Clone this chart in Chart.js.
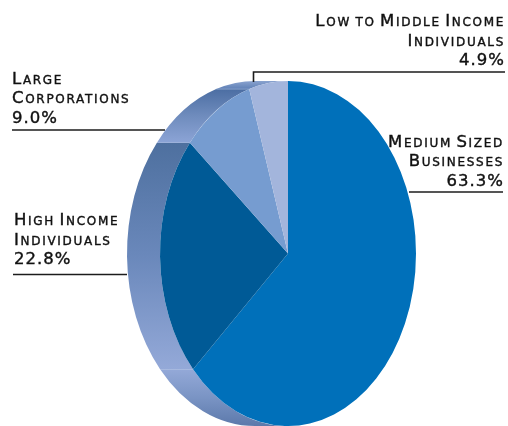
<!DOCTYPE html>
<html>
<head>
<meta charset="utf-8">
<style>
  html, body { margin: 0; padding: 0; background: #fff; }
  #wrap { width: 508px; height: 426px; overflow: hidden; }
  canvas { display: block; }
</style>
<script src="https://cdn.jsdelivr.net/npm/chart.js@4"></script>
</head>
<body>
<div id="wrap"><canvas id="pie" width="508" height="426"></canvas></div>
<script>
// Client segments and their share of the total, clockwise from twelve o'clock.
const categories = ['Medium Sized Businesses', 'High Income Individuals', 'Large Corporations', 'Low to Middle Income Individuals'];
const shares = [63.3, 22.8, 9.0, 4.9];
const faceColors = ['#0070ba', '#005a96', '#769cd0', '#a3b5dc'];

// Side-wall gradients, listed from the start of each slice's arc to its end.
const wallStops = [
  ['#5c79ab', '#7a94c4', '#94a9d8'],
  ['#94a9d8', '#6a88bb', '#4e709f'],
  ['#8ca4d6', '#6f8cbd', '#4c6ea3'],
  ['#5f80b6', '#8aa3cf']
];

// Label text, anchor and leader line for each slice.
const labelLines = [
  ['Medium Sized', 'Businesses', '63.3%'],
  ['High Income', 'Individuals', '22.8%'],
  ['Large', 'Corporations', '9.0%'],
  ['Low to Middle Income', 'Individuals', '4.9%']
];
const labelLayout = [
  { x: 504, align: 'right', base: [146.5, 166, 185.5], leader: [[409, 192], [503, 192]] },
  { x: 14, align: 'left', base: [225, 244.5, 264], leader: [[13, 274.5], [127, 274.5]] },
  { x: 12, align: 'left', base: [83.5, 103, 122.5], leader: [[12, 130], [165, 130]] },
  { x: 505, align: 'right', base: [26, 45.5, 65], leader: [[253.5, 82], [253.5, 72], [505, 72]] }
];

// The pie is squeezed horizontally into an ellipse and extruded to the left.
const squeeze = 128 / 172.5;
const depth = 33;

function wallPath(ctx, x, y, r, from, to, shift) {
  ctx.beginPath();
  ctx.arc(x, y, r, from, to);
  ctx.arc(x - shift, y, r, to, from, true);
  ctx.closePath();
}

const ellipsePie = {
  id: 'ellipsePie',
  beforeDatasetsDraw(chart) {
    const ctx = chart.ctx;
    const arcs = chart.getDatasetMeta(0).data;
    const cx = arcs[0].x;
    const shift = depth / squeeze;
    ctx.save();
    ctx.translate(cx, 0);
    ctx.scale(squeeze, 1);
    ctx.translate(-cx, 0);
    const lo = Math.PI / 2, hi = Math.PI * 1.5;
    arcs.forEach((arc, i) => {
      const from = Math.max(arc.startAngle, lo);
      const to = Math.min(arc.endAngle, hi);
      if (to <= from) return;
      const y0 = arc.y + arc.outerRadius * Math.sin(from);
      const y1 = arc.y + arc.outerRadius * Math.sin(to);
      const grad = ctx.createLinearGradient(0, y0, 0, y1);
      wallStops[i].forEach((c, k, all) => grad.addColorStop(k / (all.length - 1), c));
      wallPath(ctx, arc.x, arc.y, arc.outerRadius, from, to, shift);
      ctx.fillStyle = grad;
      ctx.fill();
      // Pale seam where the last slice's wall meets its neighbour.
      if (i === arcs.length - 1) {
        const xEdge = arc.x + arc.outerRadius * Math.cos(from);
        ctx.beginPath();
        ctx.moveTo(xEdge - shift, y0);
        ctx.lineTo(xEdge, y0);
        ctx.strokeStyle = '#9db2d8';
        ctx.lineWidth = 0.8;
        ctx.stroke();
      }
    });
  },
  afterDatasetsDraw(chart) {
    chart.ctx.restore();
  },
  afterDraw(chart) {
    const ctx = chart.ctx;
    ctx.save();
    ctx.textBaseline = 'alphabetic';
    labelLines.forEach((lines, i) => {
      const spot = labelLayout[i];
      ctx.textAlign = spot.align;
      lines.forEach((line, k) => {
        const isValue = k === lines.length - 1;
        ctx.font = (isValue ? '' : 'small-caps ') + '16.5px "DejaVu Sans"';
        ctx.letterSpacing = isValue ? '1px' : '1.7px';
        ctx.wordSpacing = isValue ? '0px' : '-2.5px';
        ctx.fillStyle = '#111';
        ctx.strokeStyle = '#111';
        ctx.lineWidth = 0.4;
        ctx.fillText(line, spot.x, spot.base[k]);
        ctx.strokeText(line, spot.x, spot.base[k]);
      });
      ctx.strokeStyle = '#1c1c1c';
      ctx.lineWidth = 1.6;
      ctx.beginPath();
      spot.leader.forEach(([x, y], k) => k ? ctx.lineTo(x, y) : ctx.moveTo(x, y));
      ctx.stroke();
    });
    ctx.restore();
  }
};

new Chart(document.getElementById('pie'), {
  type: 'pie',
  data: {
    labels: categories,
    datasets: [{
      data: shares,
      backgroundColor: faceColors,
      borderWidth: 0,
      clip: false
    }]
  },
  options: {
    responsive: false,
    animation: false,
    layout: { padding: { left: 115.5, right: 47.5, top: 81, bottom: 0 } },
    plugins: { legend: { display: false }, tooltip: { enabled: false } }
  },
  plugins: [ellipsePie]
});
</script>
</body>
</html>
